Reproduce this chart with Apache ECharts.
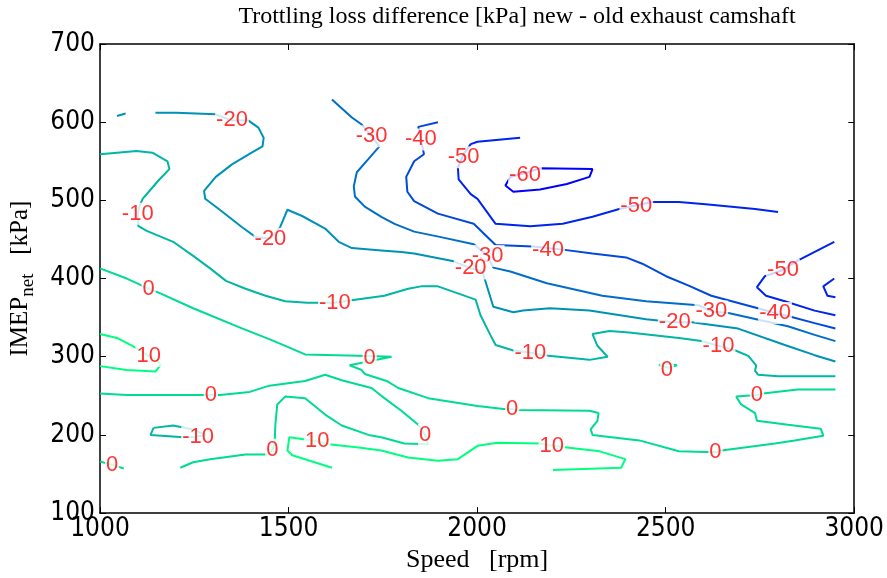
<!DOCTYPE html>
<html>
<head>
<meta charset="utf-8">
<script src="https://cdn.jsdelivr.net/npm/echarts@6/dist/echarts.min.js"></script>
<style>
html, body { margin: 0; padding: 0; background: #fff; }
#chart { width: 887px; height: 578px; }
</style>
</head>
<body>
<div id="chart"></div>
<script>
// contour levels and axis ticks
var levels = [-60, -50, -40, -30, -20, -10, 0, 10];
var xRange = [1000, 3000], xStep = 500;
var yRange = [100, 700], yStep = 100;

// contour lines, points are [speed rpm, IMEP kPa]
var c_m60 = [[2167,541],[2306,540],[2298,530],[2238,521],[2167,514],[2096,511],[2075,519],[2088,530],[2127,535],[2167,541]];

var c_m50a = [[2114,580],[2001,575],[1983,572],[1964,559],[1949,542],[1951,527],[1983,508],[2001,502],[2049,470],[2141,467],[2227,470],[2306,479],[2377,489],[2464,498],[2535,498],[2606,495],[2737,489],[2798,485]];
var c_m50b = [[2947,447],[2850,423],[2811,411],[2763,403],[2742,389],[2766,378],[2816,371],[2895,359],[2950,353]];
var c_m50c = [[2947,400],[2918,390],[2929,378],[2950,376]];

var c_m40 = [[1896,600],[1844,594],[1851,578],[1859,559],[1833,550],[1812,530],[1815,511],[1833,499],[1896,483],[1991,470],[2049,443],[2148,441],[2227,437],[2306,432],[2395,427],[2438,419],[2501,403],[2561,391],[2621,378],[2737,363],[2790,356],[2824,352],[2895,343],[2950,336]];

var c_m30 = [[1615,629],[1668,606],[1694,597],[1720,582],[1741,569],[1712,553],[1681,536],[1673,518],[1676,505],[1702,492],[1746,479],[1781,470],[1833,460],[1904,453],[1991,444],[2028,429],[2043,414],[2088,409],[2185,394],[2332,378],[2448,371],[2587,366],[2621,358],[2666,356],[2824,339],[2895,328],[2950,320]];

var c_m20a = [[1045,608],[1068,611]];
var c_m20b = [[1147,612],[1202,612],[1307,610],[1350,602],[1394,602],[1420,593],[1434,580],[1431,569],[1402,561],[1350,546],[1307,530],[1276,512],[1279,502],[1315,489],[1376,466],[1413,453],[1452,451],[1478,466],[1497,488],[1536,480],[1597,464],[1633,447],[1668,439],[1746,436],[1799,434],[1833,432],[1938,422],[1983,413],[2014,409],[2043,364],[2096,357],[2122,359],[2193,362],[2298,359],[2448,348],[2524,344],[2569,344],[2692,336],[2816,315],[2895,302],[2950,294]];

var c_m10a = [[1000,559],[1045,561],[1097,563],[1139,561],[1179,550],[1184,540],[1158,527],[1131,512],[1113,502],[1105,493],[1100,483],[1102,467],[1124,461],[1194,447],[1247,429],[1292,413],[1334,397],[1386,387],[1439,378],[1491,371],[1549,369],[1623,369],[1662,372],[1754,378],[1817,387],[1851,390],[1896,390],[1949,381],[1996,373],[2009,353],[2035,328],[2049,315],[2096,308],[2141,305],[2175,302],[2298,296],[2346,300],[2319,314],[2306,329],[2351,333],[2403,331],[2535,324],[2595,320],[2640,314],[2685,308],[2719,301],[2740,289],[2737,282],[2745,277],[2798,275],[2950,275]];
var c_m10b = [[1142,209],[1194,212],[1247,207],[1279,200],[1247,197],[1221,197],[1134,200],[1142,209]];

var c_0a = [[1000,413],[1071,400],[1129,387],[1160,381],[1247,362],[1378,336],[1457,321],[1544,303],[1712,301],[1773,300],[1662,289],[1694,283],[1702,278],[1760,269],[1791,260],[1870,247],[2001,237],[2070,233],[2093,233],[2106,232],[2298,231],[2322,228],[2319,218],[2301,207],[2306,200],[2430,193],[2535,179],[2606,178],[2632,178],[2648,180],[2790,189],[2842,193],[2918,199],[2911,208],[2824,213],[2742,218],[2737,228],[2700,239],[2687,249],[2742,251],[2758,253],[2850,258],[2950,258]];
var c_0b = [[1000,253],[1071,251],[1273,251],[1318,251],[1397,255],[1449,263],[1544,269],[1597,277],[1641,270],[1720,260],[1746,250],[1799,231],[1844,213],[1862,200],[1870,188],[1807,189],[1746,197],[1712,200],[1641,212],[1597,226],[1544,247],[1491,249],[1470,239],[1465,213],[1463,188],[1457,181],[1449,175],[1386,175],[1292,169],[1247,165],[1213,158]];
var c_0c = [[1000,166],[1037,161],[1063,157]];
var c_0d = [[2482,289],[2495,292],[2530,289],[2508,286],[2482,289]];

var c_10a = [[1000,329],[1045,324],[1097,311],[1129,301],[1155,294],[1160,289],[1147,281],[1071,283],[1000,288]];
var c_10b = [[1615,158],[1510,174],[1497,180],[1502,197],[1544,194],[1576,192],[1607,188],[1686,184],[1746,180],[1817,171],[1896,167],[1949,169],[2001,186],[2054,190],[2167,189],[2198,186],[2238,184],[2325,179],[2393,169],[2382,158],[2201,155]];

// clabel positions per level
var lab_m60 = [[2127,533]];
var lab_m50 = [[1964,555],[2422,493],[2811,411]];
var lab_m40 = [[1851,578],[2188,437],[2790,356]];
var lab_m30 = [[1720,582],[2028,429],[2621,358]];
var lab_m20 = [[1350,603],[1452,451],[1983,413],[2524,344]];
var lab_m10 = [[1100,483],[1623,369],[2141,305],[2640,314],[1260,197]];
var lab_0 = [[1129,387],[1715,298],[2093,233],[2632,178],[2742,251],[2503,283],[1294,251],[1862,200],[1457,181],[1032,161]];
var lab_10 = [[1129,301],[1576,192],[2198,186]];

// winter colormap over the level range
var levelColors = ['#0000ff', '#0024ed', '#0049db', '#006dc8', '#0092b6', '#00b6a4', '#00db92', '#00ff80'];

var contours = [
    [-60, c_m60], [-50, c_m50a], [-50, c_m50b], [-50, c_m50c], [-40, c_m40], [-30, c_m30],
    [-20, c_m20a], [-20, c_m20b], [-10, c_m10a], [-10, c_m10b],
    [0, c_0a], [0, c_0b], [0, c_0c], [0, c_0d], [10, c_10a], [10, c_10b]
];
var labels = [
    [-60, lab_m60], [-50, lab_m50], [-40, lab_m40], [-30, lab_m30],
    [-20, lab_m20], [-10, lab_m10], [0, lab_0], [10, lab_10]
];

function colorOf(lvl) {
    return levelColors[levels.indexOf(lvl)];
}

var series = [];
contours.forEach(function (c) {
    series.push({
        type: 'line',
        data: c[1],
        symbol: 'none',
        silent: true,
        z: 2,
        lineStyle: { color: colorOf(c[0]), width: 2 }
    });
});
labels.forEach(function (l) {
    series.push({
        type: 'scatter',
        data: l[1],
        symbolSize: 0,
        silent: true,
        z: 5,
        label: {
            show: true,
            position: 'inside',
            formatter: String(l[0]),
            color: '#ff0000',
            fontSize: 22,
            fontFamily: 'Liberation Sans, Arial, sans-serif',
            backgroundColor: '#fff',
            padding: [0, 1]
        }
    });
});

var tickFont = '"Liberation Sans Narrow", "Arial Narrow", "DejaVu Sans Condensed", "Liberation Sans", sans-serif';
var serif = '"Liberation Serif", "Times New Roman", serif';
function plain(v) { return String(v); }

function xAx(pos, labels) {
    return {
        type: 'value', position: pos, min: xRange[0], max: xRange[1], interval: xStep,
        axisLine: { show: true, onZero: false, lineStyle: { color: '#000', width: 1.5 } },
        axisTick: { show: true, inside: true, length: 6, lineStyle: { color: '#000', width: 1 } },
        axisLabel: { show: labels, color: '#000', fontSize: 26, fontFamily: tickFont, margin: 3, formatter: plain },
        splitLine: { show: false }
    };
}
function yAx(pos, labels) {
    return {
        type: 'value', position: pos, min: yRange[0], max: yRange[1], interval: yStep,
        axisLine: { show: true, onZero: false, lineStyle: { color: '#000', width: 1.5 } },
        axisTick: { show: true, inside: true, length: 6, lineStyle: { color: '#000', width: 1 } },
        axisLabel: { show: labels, color: '#000', fontSize: 26, fontFamily: tickFont, margin: 5, formatter: plain },
        splitLine: { show: false }
    };
}

var xMain = xAx('bottom', true);
xMain.name = 'Speed   [rpm]';
xMain.nameLocation = 'middle';
xMain.nameGap = 29;
xMain.nameTextStyle = { fontFamily: serif, fontSize: 26, color: '#000' };

var yMain = yAx('left', true);
yMain.name = '{a|IMEP}{s|net}{a|   [kPa]}';
yMain.nameLocation = 'middle';
yMain.nameGap = 62;
yMain.nameTextStyle = {
    rich: {
        a: { fontFamily: serif, fontSize: 25, color: '#000' },
        s: { fontFamily: serif, fontSize: 19, color: '#000', padding: [16, 0, 0, 0] }
    }
};

var option = {
    animation: false,
    backgroundColor: '#fff',
    title: {
        text: 'Trottling loss difference [kPa] new - old exhaust camshaft',
        left: 512, textAlign: 'center', top: 0,
        textStyle: { fontFamily: serif, fontSize: 24, fontWeight: 'normal', color: '#000' }
    },
    grid: { left: 96, right: 28, top: 44, bottom: 62, containLabel: false },
    xAxis: [xMain, xAx('top', false)],
    yAxis: [yMain, yAx('right', false)],
    series: series
};

var chart = echarts.init(document.getElementById('chart'), null, { renderer: 'canvas' });
chart.setOption(option);
window.addEventListener('resize', chart.resize);
</script>
</body>
</html>
